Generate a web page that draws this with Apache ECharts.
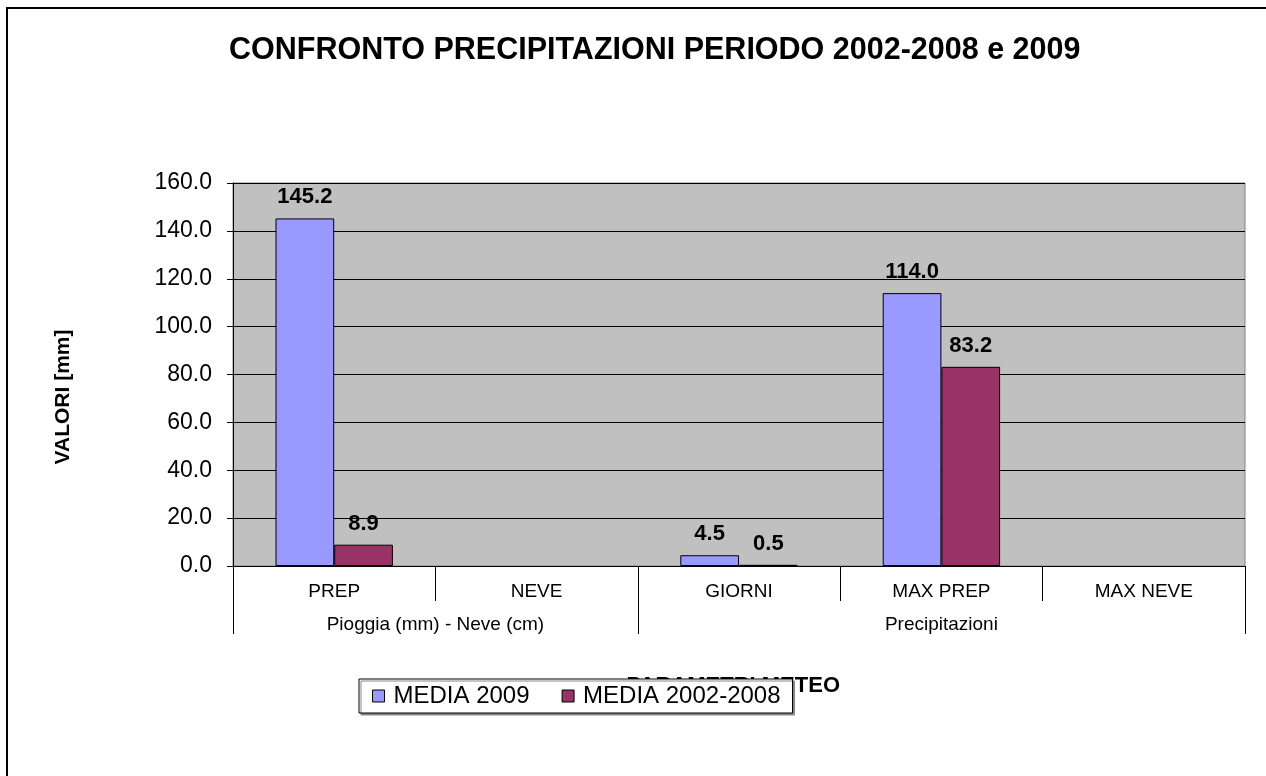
<!DOCTYPE html>
<html>
<head>
<meta charset="utf-8">
<title>Confronto precipitazioni</title>
<script src="https://cdn.jsdelivr.net/npm/echarts@6/dist/echarts.min.js"></script>
<style>
  html, body { margin: 0; padding: 0; background: #fff; }
  #chart { width: 1266px; height: 776px; }
</style>
</head>
<body>
<div id="chart"></div>
<script>
  // dati
  const categories = ['PREP', 'NEVE', 'GIORNI', 'MAX PREP', 'MAX NEVE'];
  const groups = ['Pioggia (mm) - Neve (cm)', 'Precipitazioni'];
  const groupSizes = [2, 3];
  const media2009 = [145.2, null, 4.5, 114.0, null];
  const media0208 = [8.9, null, 0.5, 83.2, null];
  const seriesNames = ['MEDIA 2009', 'MEDIA 2002-2008'];

  // confini e centri dei gruppi (in unita' di categoria)
  let bounds = [0];
  groupSizes.forEach(s => bounds.push(bounds[bounds.length - 1] + s));
  let centers = groupSizes.map((s, i) => bounds[i] + s / 2);

  const font = 'Arial, "Liberation Sans", sans-serif';
  let chart = echarts.init(document.getElementById('chart'));

  let labelOpt = {
    show: true,
    position: 'top',
    distance: 10,
    fontFamily: font,
    fontWeight: 'bold',
    fontSize: 22,
    color: '#000',
    formatter: p => p.value == null ? '' : p.value.toFixed(1)
  };

  chart.setOption({
    animation: false,
    backgroundColor: '#fff',
    title: {
      text: 'CONFRONTO PRECIPITAZIONI PERIODO 2002-2008 e 2009',
      left: 224,
      top: 30,
      textStyle: {fontFamily: font, fontWeight: 'bold', fontSize: 30.5, color: '#000'}
    },
    legend: {
      left: 359,
      top: 679,
      data: seriesNames,
      icon: 'rect',
      itemWidth: 12,
      itemHeight: 12,
      itemGap: 32,
      padding: [5, 12, 5, 13],
      backgroundColor: '#fff',
      borderColor: '#000',
      borderWidth: 1,
      shadowColor: '#888',
      shadowOffsetX: 2,
      shadowOffsetY: 2,
      shadowBlur: 0,
      itemStyle: {borderColor: '#000', borderWidth: 1},
      textStyle: {fontFamily: font, fontSize: 24, color: '#000', padding: [0, 0, 0, 4]}
    },
    grid: {
      left: 233,
      right: 21,
      top: 183,
      bottom: 210,
      show: true,
      backgroundColor: '#C0C0C0',
      borderColor: '#808080',
      borderWidth: 1
    },
    xAxis: [
      {
        type: 'category',
        data: categories,
        axisLine: {lineStyle: {color: '#000'}},
        axisTick: {show: true, interval: 0, length: 35, lineStyle: {color: '#000'}},
        axisLabel: {interval: 0, margin: 16, fontFamily: font, fontSize: 19, color: '#000'}
      },
      {
        type: 'value',
        position: 'bottom',
        offset: 35,
        min: 0,
        max: bounds[bounds.length - 1],
        splitLine: {show: false},
        axisLine: {show: false},
        axisTick: {show: true, length: 33, customValues: bounds, lineStyle: {color: '#000'}},
        axisLabel: {
          margin: 14,
          customValues: centers,
          fontFamily: font,
          fontSize: 19,
          color: '#000',
          formatter: v => groups[centers.indexOf(v)] || ''
        }
      }
    ],
    yAxis: {
      type: 'value',
      min: 0,
      max: 160,
      interval: 20,
      axisLine: {show: true, lineStyle: {color: '#000'}},
      axisTick: {show: true, length: 6, lineStyle: {color: '#000'}},
      splitLine: {lineStyle: {color: '#000', width: 1}},
      axisLabel: {
        margin: 21,
        fontFamily: font,
        fontSize: 23,
        color: '#000',
        formatter: v => v.toFixed(1)
      }
    },
    graphic: [
      {
        type: 'rect',
        z: -10,
        silent: true,
        shape: {x: 7, y: 8, width: 1400, height: 900},
        style: {fill: 'none', stroke: '#000', lineWidth: 2}
      },
      {
        type: 'text',
        x: 63,
        y: 397,
        rotation: Math.PI / 2,
        style: {
          text: 'VALORI [mm]',
          align: 'center',
          verticalAlign: 'middle',
          font: 'bold 21px ' + font,
          fill: '#000'
        }
      },
      {
        type: 'text',
        x: 840,
        y: 686,
        z: 0,
        style: {
          text: 'PARAMETRI METEO',
          align: 'right',
          verticalAlign: 'middle',
          font: 'bold 22px ' + font,
          fill: '#000'
        }
      }
    ],
    series: [
      {
        name: seriesNames[0],
        type: 'bar',
        data: media2009,
        barGap: '0%',
        barCategoryGap: '42%',
        itemStyle: {color: '#9999FF', borderColor: '#000', borderWidth: 1},
        label: labelOpt
      },
      {
        name: seriesNames[1],
        type: 'bar',
        data: media0208,
        barGap: '0%',
        barCategoryGap: '42%',
        itemStyle: {color: '#993366', borderColor: '#000', borderWidth: 1},
        label: labelOpt
      }
    ]
  });
</script>
</body>
</html>
